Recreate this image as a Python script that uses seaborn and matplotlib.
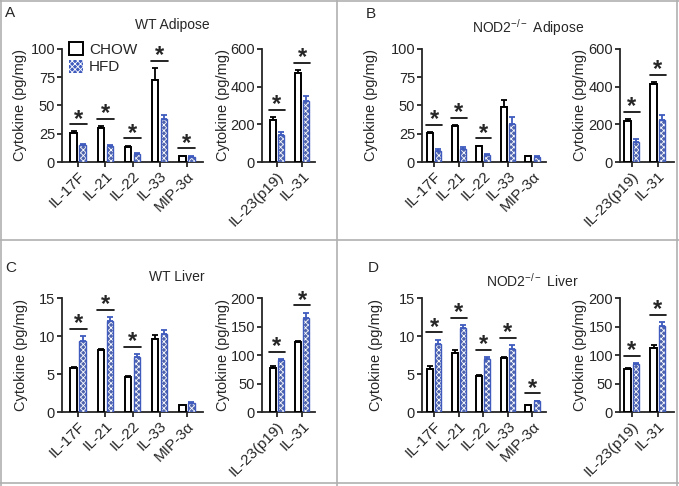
import numpy as np
import pandas as pd
import matplotlib
matplotlib.use('Agg')
import matplotlib.pyplot as plt
import matplotlib.transforms as mtransforms
from matplotlib.patches import Patch, Rectangle
from matplotlib.lines import Line2D
import seaborn as sns

sns.set_style('ticks')
plt.rcParams['font.family'] = ['Liberation Sans', 'DejaVu Sans']
plt.rcParams['mathtext.default'] = 'regular'
plt.rcParams['hatch.linewidth'] = 0.6

BLUE = '#3f5bbd'
HATCH = 'xxxxxx'

main_cyto = ['IL-17F', 'IL-21', 'IL-22', 'IL-33', 'MIP-3α']
side_cyto = ['IL-23(p19)', 'IL-31']

# A  WT adipose
a_chow = [26, 30, 13.5, 73, 5]
a_chow_err = [1, 1.5, 0.8, 10, 0.5]
a_hfd = [15, 14, 7.5, 38, 4.5]
a_hfd_err = [0.8, 1, 0.5, 4, 0.5]
a_star = [1, 1, 1, 1, 1]
a2_chow = [225, 475]
a2_chow_err = [12, 12]
a2_hfd = [145, 322]
a2_hfd_err = [15, 30]
a2_star = [1, 1]

# B  NOD2-/- adipose
b_chow = [25.5, 31.5, 14, 48.5, 5]
b_chow_err = [1, 1.2, 0.5, 6, 0.3]
b_hfd = [10, 11.5, 6, 33.5, 4.5]
b_hfd_err = [1.5, 1.8, 0.8, 6, 0.7]
b_star = [1, 1, 1, 0, 0]
b2_chow = [220, 412]
b2_chow_err = [8, 12]
b2_hfd = [108, 222]
b2_hfd_err = [12, 28]
b2_star = [1, 1]

# C  WT liver
c_chow = [5.85, 8.2, 4.65, 9.6, 0.9]
c_chow_err = [0.1, 0.15, 0.08, 0.5, 0.05]
c_hfd = [9.4, 12.0, 7.3, 10.3, 1.2]
c_hfd_err = [0.6, 0.5, 0.3, 0.5, 0.1]
c_star = [1, 1, 1, 0, 0]
c2_chow = [78, 122]
c2_chow_err = [2, 3]
c2_hfd = [91, 165]
c2_hfd_err = [2, 9]
c2_star = [1, 1]

# D  NOD2-/- liver
d_chow = [5.7, 7.8, 4.7, 7.1, 0.9]
d_chow_err = [0.3, 0.3, 0.15, 0.15, 0.05]
d_hfd = [8.9, 11.0, 7.0, 8.3, 1.4]
d_hfd_err = [0.6, 0.4, 0.2, 0.5, 0.1]
d_star = [1, 1, 1, 1, 1]
d2_chow = [76, 113]
d2_chow_err = [2, 5]
d2_hfd = [84, 151]
d2_hfd_err = [2, 7]
d2_star = [1, 1]

W, H = 679, 486
fig = plt.figure(figsize=(W / 100, H / 100), dpi=100)


def px_axes(x0, x1, y0, y1):
    return fig.add_axes([x0 / W, 1 - y1 / H, (x1 - x0) / W, (y1 - y0) / H])


def draw(ax, names, chow, chow_err, hfd, hfd_err, stars, ymax, yticks, xlim, label_x):
    n = len(names)
    df = pd.DataFrame({'cytokine': names * 2,
                       'diet': ['CHOW'] * n + ['HFD'] * n,
                       'value': chow + hfd})
    sns.barplot(data=df, x='cytokine', y='value', hue='diet',
                palette={'CHOW': 'white', 'HFD': BLUE}, errorbar=None,
                width=0.66, gap=0.25, legend=False, ax=ax, zorder=3)
    c_bars, h_bars = ax.containers[0], ax.containers[1]
    for b in c_bars:
        b.set_edgecolor('black')
        b.set_linewidth(1.4)
    for b in h_bars:
        b.set_edgecolor('white')
        b.set_linewidth(0)
        b.set_hatch(HATCH)
        ax.add_patch(Rectangle((b.get_x(), 0), b.get_width(), b.get_height(),
                               fill=False, edgecolor=BLUE, lw=1.0, zorder=4))
    cx = [b.get_x() + b.get_width() / 2 for b in c_bars]
    hx = [b.get_x() + b.get_width() / 2 for b in h_bars]
    ax.errorbar(cx, chow, yerr=[np.zeros(n), chow_err], fmt='none', ecolor='black',
                elinewidth=1.3, capsize=2.5, capthick=1.3, zorder=2)
    ax.errorbar(hx, hfd, yerr=[np.zeros(n), hfd_err], fmt='none', ecolor=BLUE,
                elinewidth=1.3, capsize=2.5, capthick=1.3, zorder=2)
    # significance stars
    for i in range(n):
        if stars[i]:
            top = max(chow[i] + chow_err[i], hfd[i] + hfd_err[i])
            ly = top + 0.065 * ymax
            ax.plot([i - 0.32, i + 0.32], [ly, ly], color='black', lw=1.2,
                    clip_on=False, zorder=5)
            ax.annotate('*', (i, ly), xytext=(0, -1), textcoords='offset points',
                        ha='center', va='baseline', fontsize=17, fontweight='bold',
                        annotation_clip=False)
    ax.set_ylim(0, ymax)
    ax.set_yticks(yticks)
    ax.set_xlim(*xlim)
    ax.set_xlabel('')
    ax.set_ylabel('Cytokine (pg/mg)', fontsize=10.5)
    trans = mtransforms.blended_transform_factory(fig.transFigure, ax.transAxes)
    ax.yaxis.set_label_coords(label_x / W, 0.5, transform=trans)
    sns.despine(ax=ax)
    for s in ['left', 'bottom']:
        ax.spines[s].set_linewidth(1.3)
    ax.tick_params(axis='both', width=1.3, length=3.5, labelsize=10.5, pad=1.5)
    ax.tick_params(axis='x', labelsize=11)
    for t in ax.get_xticklabels():
        t.set_rotation(45)
        t.set_ha('right')
        t.set_rotation_mode('anchor')


rows = [(49, 162), (298, 412)]

axA1 = px_axes(62, 203, *rows[0])
axA2 = px_axes(262, 315, *rows[0])
axB1 = px_axes(422, 546, *rows[0])
axB2 = px_axes(620, 674, *rows[0])
axC1 = px_axes(62, 203, *rows[1])
axC2 = px_axes(262, 315, *rows[1])
axD1 = px_axes(422, 546, *rows[1])
axD2 = px_axes(620, 674, *rows[1])

draw(axA1, main_cyto, a_chow, a_chow_err, a_hfd, a_hfd_err, a_star, 100, [0, 25, 50, 75, 100], (-0.6, 4.6), 27)
draw(axA2, side_cyto, a2_chow, a2_chow_err, a2_hfd, a2_hfd_err, a2_star, 600, [0, 200, 400, 600], (-0.6, 1.52), 230)
draw(axB1, main_cyto, b_chow, b_chow_err, b_hfd, b_hfd_err, b_star, 100, [0, 25, 50, 75, 100], (-0.5, 4.55), 378)
draw(axB2, side_cyto, b2_chow, b2_chow_err, b2_hfd, b2_hfd_err, b2_star, 600, [0, 200, 400, 600], (-0.46, 1.62), 587)
draw(axC1, main_cyto, c_chow, c_chow_err, c_hfd, c_hfd_err, c_star, 15, [0, 5, 10, 15], (-0.6, 4.6), 28)
draw(axC2, side_cyto, c2_chow, c2_chow_err, c2_hfd, c2_hfd_err, c2_star, 200, [0, 50, 100, 150, 200], (-0.6, 1.52), 230)
draw(axD1, main_cyto, d_chow, d_chow_err, d_hfd, d_hfd_err, d_star, 15, [0, 5, 10, 15], (-0.5, 4.55), 383)
draw(axD2, side_cyto, d2_chow, d2_chow_err, d2_hfd, d2_hfd_err, d2_star, 200, [0, 50, 100, 150, 200], (-0.46, 1.62), 587)

# legend in panel A
handles = [Patch(facecolor='white', edgecolor='black', lw=1.4),
           Patch(facecolor=BLUE, edgecolor='white', hatch=HATCH, lw=0)]
axA1.legend(handles, ['CHOW', 'HFD'], loc='upper left', bbox_to_anchor=(0.05, 1.06),
            frameon=False, fontsize=11, handlelength=0.9, handleheight=0.9,
            handletextpad=0.4, labelspacing=0.2, borderpad=0, borderaxespad=0)

# panel letters and titles
for letter, x, y in [('A', 5, 13), ('B', 366, 14), ('C', 5, 268), ('D', 368, 268)]:
    fig.text(x / W, 1 - y / H, letter, fontsize=11, va='center', ha='left')
for title, x, y in [('WT Adipose', 172, 25), ('NOD2$^{-/-}$ Adipose', 528, 28),
                    ('WT Liver', 177, 277), ('NOD2$^{-/-}$ Liver', 532, 281)]:
    fig.text(x / W, 1 - y / H, title, fontsize=10, va='center', ha='center')

# panel frame lines
frame = [((1, 1), (0, H)), ((0, W), (1, 1)), ((677, 677), (0, H)), ((0, W), (483, 483)),
         ((337, 337), (0, H)), ((0, W), (240, 240))]
for xs, ys in frame:
    fig.add_artist(Line2D([x / W for x in xs], [1 - y / H for y in ys],
                          transform=fig.transFigure, color='#b0b0b0', lw=1.2))

fig.savefig('out.png', dpi=100)
